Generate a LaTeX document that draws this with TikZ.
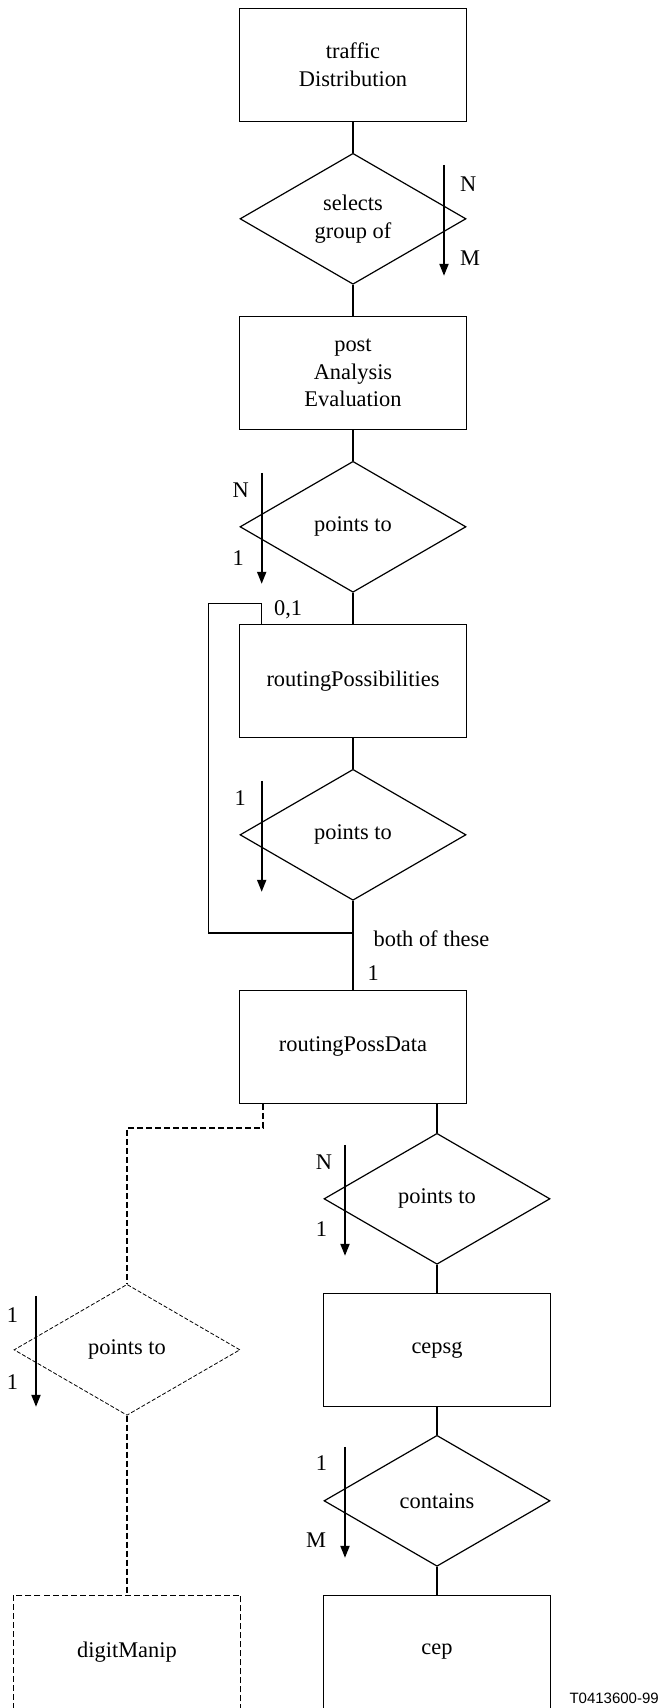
\documentclass[tikz,border=0pt]{standalone}
\usepackage{fontspec}
\setmainfont{Liberation Serif}
\newfontfamily\tagfont{Liberation Sans}
\usetikzlibrary{shapes.geometric,positioning,chains,arrows.meta}

\begin{document}
\begin{tikzpicture}[%
    >={Triangle[length=6pt,width=4.5pt]}, % Filled arrow heads
    start chain=going below,    % General flow is top-to-bottom
    node distance=77pt,         % Centre to centre spacing (on grid)
    font=\fontsize{11.2}{13.9}\selectfont,
    ]
\tikzset{
  base/.style={draw, line width=0.6pt, on grid, align=center, inner sep=0pt},
  ent/.style={base, on chain, rectangle, minimum width=113.5pt, minimum height=56.5pt},
  rel/.style={base, on chain, diamond, minimum width=113pt, minimum height=65.5pt},
  optent/.style={base, rectangle, minimum width=113.5pt, minimum height=56.5pt, line width=0.8pt, dash pattern=on 3pt off 1.5pt},
  optrel/.style={base, diamond, minimum width=113pt, minimum height=65.5pt, line width=0.4pt, dash pattern=on 2pt off 1pt},
  link/.style={line width=0.6pt},
  optlink/.style={line width=0.8pt, dash pattern=on 3pt off 1.5pt},
  card/.style={->, line width=1pt},
  lbl/.style={inner sep=0pt},
}

\useasboundingbox (0,-0.6pt) rectangle (332pt,-854.6pt);

\node [ent] (p0) at (176.5pt,-33pt) {traffic\\Distribution};
\node [rel] (p1) {selects\\group of};
\node [ent] (p2) {post\\Analysis\\Evaluation};
\node [rel] (p3) {points to};
\node [ent] (p4) {routingPossibilities};
\node [rel] (p5) {points to};
\node [ent,below=106pt of p5] (p6) {routingPossData};

\node [rel,below right=76pt and 42pt of p6] (p7) {points to};
\node [ent,below=75.5pt of p7] (p8) {cepsg};
\node [rel,below=75.5pt of p8] (p9) {contains};
\node [ent,below=75.5pt of p9] (p10) {cep};

\node [optrel,left=155pt of p8] (p11) {points to};
\node [optent,left=155pt of p10] (p12) {digitManip};

\node [font=\tagfont\fontsize{7.5}{9}\selectfont, anchor=base west, inner sep=0pt] (tag) at ([shift={(9pt,2.5pt)}]p10.south east) {T0413600-99};

\draw [link] (p0.south) -- (p1.north);
\draw [link] (p1.south) -- (p2.north);
\draw [link] (p2.south) -- (p3.north);
\draw [link] (p3.south) -- (p4.north);
\draw [link] (p4.south) -- (p5.north);
\draw [link] (p5.south) -- node [lbl, pos=0.43, anchor=west, xshift=10pt] {both of these}
                            node [lbl, pos=0.81, anchor=west, xshift=7pt] {1} (p6.north);

% loop back onto routingPossibilities
\coordinate (q0) at ([xshift=-45.65pt]p4.north);
\coordinate (q1) at ([yshift=-16pt]p5.south);
\draw [link] (q0) -- ++(0,10pt) -- ++(-26.6pt,0) |- (q1);
\node [lbl, anchor=base west] (l01) at ([shift={(6pt,4pt)}]q0) {0,1};

\draw [link] (p6.south -| p7.north) -- (p7.north);
\draw [link] (p7.south) -- (p8.north);
\draw [link] (p8.south) -- (p9.north);
\draw [link] (p9.south) -- (p10.north);

\draw [optlink] ([xshift=-45pt]p6.south) -- ++(0,-12pt) -| (p11.north);
\draw [optlink] (p11.south) -- (p12.north);

% cardinalities
\draw [card] ([shift={(45.5pt,27pt)}]p1.center) -- node [lbl, pos=0.17, anchor=west, xshift=7.5pt] {N}
                                                    node [lbl, pos=0.84, anchor=west, xshift=7.5pt] {M} ++(0,-55.5pt);
\draw [card] ([shift={(-45.65pt,27pt)}]p3.center) -- node [lbl, pos=0.16, anchor=east, xshift=-6pt] {N}
                                                     node [lbl, pos=0.77, anchor=east, xshift=-8.5pt] {1} ++(0,-55.5pt);
\draw [card] ([shift={(-45.65pt,27pt)}]p5.center) -- node [lbl, pos=0.16, anchor=east, xshift=-7.5pt] {1} ++(0,-55.5pt);
\draw [card] ([shift={(-46pt,27pt)}]p7.center) -- node [lbl, pos=0.16, anchor=east, xshift=-6pt] {N}
                                                  node [lbl, pos=0.76, anchor=east, xshift=-8.5pt] {1} ++(0,-55.5pt);
\draw [card] ([shift={(-46pt,27pt)}]p9.center) -- node [lbl, pos=0.15, anchor=east, xshift=-8.5pt] {1}
                                                  node [lbl, pos=0.84, anchor=east, xshift=-9pt] {M} ++(0,-55.5pt);
\draw [card] ([shift={(-45.5pt,27pt)}]p11.center) -- node [lbl, pos=0.17, anchor=east, xshift=-8.5pt] {1}
                                                    node [lbl, pos=0.78, anchor=east, xshift=-8.5pt] {1} ++(0,-55.5pt);

\end{tikzpicture}
\end{document}
